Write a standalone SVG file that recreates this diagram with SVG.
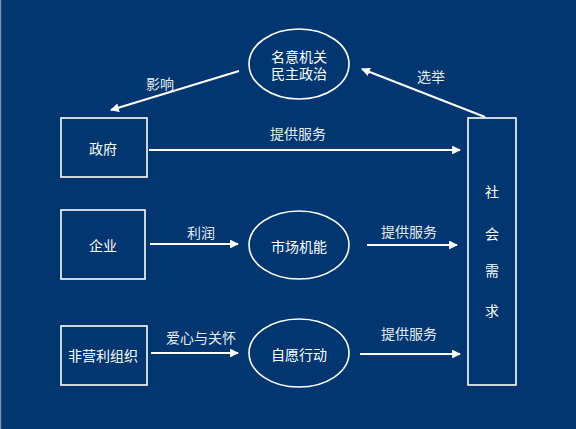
<svg xmlns="http://www.w3.org/2000/svg" width="576" height="429" viewBox="0 0 576 429">
<style>
.box{fill:none;stroke:#fff;stroke-width:1.6}
.t{font-family:"Noto Sans CJK SC","Liberation Sans",sans-serif;font-size:14px;fill:#fff;text-anchor:middle;dominant-baseline:central}
.l{fill:#e6ebf2}
.c{stroke:#fff;stroke-width:2.2;fill:none;marker-end:url(#ah)}
</style>
<defs>
<marker id="ah" viewBox="0 0 10 10" refX="9" refY="5" markerWidth="4" markerHeight="4" orient="auto" markerUnits="strokeWidth">
<path d="M0,0 L10,5 L0,10 z" fill="#fff"/>
</marker>
</defs>
<rect width="576" height="429" fill="#013670"/>
<rect x="0" y="0" width="1.2" height="429" fill="#8090a6"/>
<g id="connectors">
<line class="c" x1="239" y1="71" x2="111" y2="110"/>
<line class="c" x1="485" y1="117" x2="362" y2="69"/>
<line class="c" x1="149" y1="150" x2="460" y2="150"/>
<line class="c" x1="150" y1="244" x2="238" y2="244"/>
<line class="c" x1="367" y1="245" x2="457" y2="245"/>
<line class="c" x1="151" y1="353" x2="238" y2="353"/>
<line class="c" x1="360" y1="354" x2="460" y2="354"/>
<text class="t l" x="160" y="83">影响</text>
<text class="t l" x="431" y="76">选举</text>
<text class="t l" x="298" y="133">提供服务</text>
<text class="t l" x="201" y="232">利润</text>
<text class="t l" x="409" y="231">提供服务</text>
<text class="t l" x="201" y="337">爱心与关怀</text>
<text class="t l" x="409" y="333">提供服务</text>
</g>
<g id="democracy">
<ellipse class="box" cx="299" cy="64" rx="50" ry="35"/>
<text class="t" x="299" y="56">名意机关<tspan x="299" dy="16.5">民主政治</tspan></text>
</g>
<g id="government">
<rect class="box" x="61" y="118" width="86" height="59"/>
<text class="t" x="103" y="148">政府</text>
</g>
<g id="enterprise">
<rect class="box" x="61" y="210" width="84" height="69"/>
<text class="t" x="103" y="245">企业</text>
</g>
<g id="market">
<ellipse class="box" cx="299" cy="245" rx="50" ry="34"/>
<text class="t" x="299" y="246">市场机能</text>
</g>
<g id="npo">
<rect class="box" x="61" y="326" width="86" height="59"/>
<text class="t" x="103" y="355">非营利组织</text>
</g>
<g id="volunteer">
<ellipse class="box" cx="299" cy="353" rx="50" ry="34"/>
<text class="t" x="299" y="354">自愿行动</text>
</g>
<g id="society">
<rect class="box" x="468" y="118" width="48" height="267"/>
<text class="t" x="492" y="191">社</text>
<text class="t" x="492" y="233">会</text>
<text class="t" x="492" y="270">需</text>
<text class="t" x="492" y="310">求</text>
</g>
</svg>
